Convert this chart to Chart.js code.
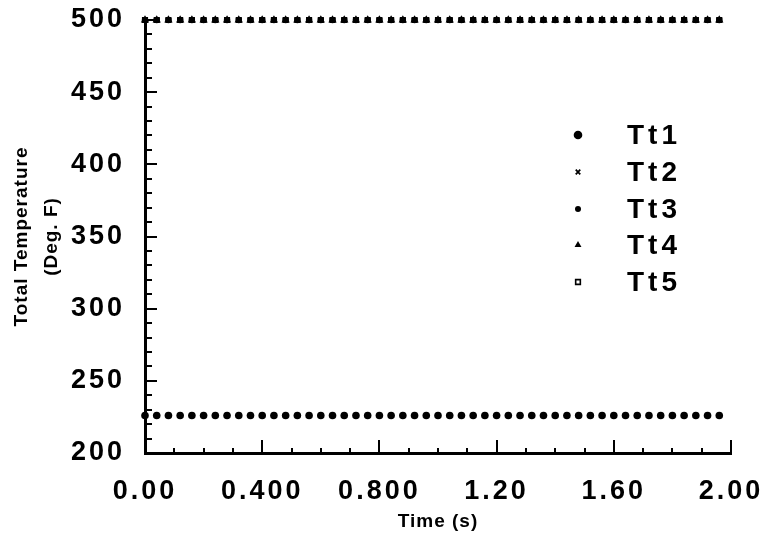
<!DOCTYPE html>
<html>
<head>
<meta charset="utf-8">
<title>Total Temperature</title>
<script src="https://cdn.jsdelivr.net/npm/chart.js@4/dist/chart.umd.min.js"></script>
<style>
  body { margin: 0; background: #fff; }
  #wrap { width: 771px; height: 541px; }
</style>
</head>
<body>
<div id="wrap"><canvas id="tempChart" width="771" height="541"></canvas></div>
<script>
// Sample times (s)
const times = [
    0.00, 0.04, 0.08, 0.12, 0.16, 0.20, 0.24, 0.28, 0.32, 0.36,
    0.40, 0.44, 0.48, 0.52, 0.56, 0.60, 0.64, 0.68, 0.72, 0.76,
    0.80, 0.84, 0.88, 0.92, 0.96, 1.00, 1.04, 1.08, 1.12, 1.16,
    1.20, 1.24, 1.28, 1.32, 1.36, 1.40, 1.44, 1.48, 1.52, 1.56,
    1.60, 1.64, 1.68, 1.72, 1.76, 1.80, 1.84, 1.88, 1.92, 1.96
];

// Total temperatures (Deg. F)
const tt1 = [
    226, 226, 226, 226, 226, 226, 226, 226, 226, 226,
    226, 226, 226, 226, 226, 226, 226, 226, 226, 226,
    226, 226, 226, 226, 226, 226, 226, 226, 226, 226,
    226, 226, 226, 226, 226, 226, 226, 226, 226, 226,
    226, 226, 226, 226, 226, 226, 226, 226, 226, 226
];
const tt2 = [
    500, 500, 500, 500, 500, 500, 500, 500, 500, 500,
    500, 500, 500, 500, 500, 500, 500, 500, 500, 500,
    500, 500, 500, 500, 500, 500, 500, 500, 500, 500,
    500, 500, 500, 500, 500, 500, 500, 500, 500, 500,
    500, 500, 500, 500, 500, 500, 500, 500, 500, 500
];
const tt3 = [
    500, 500, 500, 500, 500, 500, 500, 500, 500, 500,
    500, 500, 500, 500, 500, 500, 500, 500, 500, 500,
    500, 500, 500, 500, 500, 500, 500, 500, 500, 500,
    500, 500, 500, 500, 500, 500, 500, 500, 500, 500,
    500, 500, 500, 500, 500, 500, 500, 500, 500, 500
];
const tt4 = [
    500, 500, 500, 500, 500, 500, 500, 500, 500, 500,
    500, 500, 500, 500, 500, 500, 500, 500, 500, 500,
    500, 500, 500, 500, 500, 500, 500, 500, 500, 500,
    500, 500, 500, 500, 500, 500, 500, 500, 500, 500,
    500, 500, 500, 500, 500, 500, 500, 500, 500, 500
];
const tt5 = [
    500, 500, 500, 500, 500, 500, 500, 500, 500, 500,
    500, 500, 500, 500, 500, 500, 500, 500, 500, 500,
    500, 500, 500, 500, 500, 500, 500, 500, 500, 500,
    500, 500, 500, 500, 500, 500, 500, 500, 500, 500,
    500, 500, 500, 500, 500, 500, 500, 500, 500, 500
];

const seriesNames = ['Tt1', 'Tt2', 'Tt3', 'Tt4', 'Tt5'];
const xTickLabels = ['0.00', '0.400', '0.800', '1.20', '1.60', '2.00'];
const yTickLabels = ['200', '250', '300', '350', '400', '450', '500'];

const FONT = '"Liberation Sans", Arial, Helvetica, sans-serif';

// Marker look for each series (also used by the legend)
const markers = [
    { pointStyle: 'circle', radius: 3.8, fill: '#000', borderWidth: 0, legendRadius: 4.3 },
    { pointStyle: 'crossRot', radius: 3.5, fill: '#000', borderWidth: 1.8, legendRadius: 3.2 },
    { pointStyle: 'circle', radius: 3.2, fill: '#000', borderWidth: 0, legendRadius: 3 },
    { pointStyle: 'triangle', radius: 4.8, fill: '#000', borderWidth: 0, legendRadius: 4 },
    { pointStyle: 'rect', radius: 3.2, fill: '#fff', borderWidth: 1.6, legendRadius: 3.3 }
];

const allValues = [tt1, tt2, tt3, tt4, tt5];

const datasets = allValues.map((vals, i) => ({
    label: seriesNames[i],
    data: times.map((t, j) => ({ x: t, y: vals[j] })),
    showLine: false,
    pointStyle: markers[i].pointStyle,
    pointRadius: markers[i].radius,
    pointBackgroundColor: markers[i].fill,
    pointBorderColor: '#000',
    pointBorderWidth: markers[i].borderWidth,
    clip: false
}));

// Wider letter spacing for tick labels, tighter for axis titles
const letterSpacing = {
    id: 'letterSpacing',
    beforeDraw(chart) {
        Object.values(chart.scales).forEach(scale => {
            if (scale._spaced) return;
            const drawLabels = scale.drawLabels;
            scale.drawLabels = function (area) {
                this.ctx.letterSpacing = '3px';
                drawLabels.call(this, area);
                this.ctx.letterSpacing = '1px';
            };
            scale._spaced = true;
        });
        chart.ctx.letterSpacing = '1px';
    }
};

// Inward tick marks on both axes
const innerTicks = {
    id: 'innerTicks',
    afterDraw(chart) {
        const { ctx, chartArea } = chart;
        const x = chart.scales.x;
        const y = chart.scales.y;
        ctx.save();
        ctx.strokeStyle = '#000';
        ctx.lineWidth = 2;
        ctx.beginPath();
        for (let v = 200; v <= 500.001; v += 10) {
            const py = Math.round(y.getPixelForValue(v));
            const len = Math.round(v) % 50 === 0 ? 12 : 7;
            ctx.moveTo(chartArea.left, py);
            ctx.lineTo(chartArea.left + len, py);
        }
        for (let k = 1; k <= 20; k++) {
            const px = Math.round(x.getPixelForValue(k / 10));
            const len = k % 4 === 0 ? 13 : 5;
            ctx.moveTo(px, chartArea.bottom);
            ctx.lineTo(px, chartArea.bottom - len);
        }
        ctx.stroke();
        ctx.restore();
    }
};

// Legend drawn inside the plot area
const plotLegend = {
    id: 'plotLegend',
    afterDraw(chart) {
        const ctx = chart.ctx;
        const markX = 578;
        const textX = 627;
        const rowY = [135, 172, 209, 245, 282];
        ctx.save();
        seriesNames.forEach((name, i) => {
            const m = markers[i];
            ctx.fillStyle = m.fill;
            ctx.strokeStyle = '#000';
            ctx.lineWidth = m.borderWidth;
            Chart.helpers.drawPoint(ctx, {
                pointStyle: m.pointStyle,
                radius: m.legendRadius,
                borderWidth: m.borderWidth,
                rotation: 0
            }, markX, rowY[i]);
            ctx.fillStyle = '#000';
            ctx.font = 'bold 28px ' + FONT;
            ctx.textBaseline = 'middle';
            ctx.textAlign = 'left';
            ctx.letterSpacing = '4px';
            ctx.fillText(name, textX, rowY[i] + 1);
        });
        ctx.restore();
    }
};

new Chart(document.getElementById('tempChart'), {
    type: 'scatter',
    data: { datasets },
    options: {
        responsive: false,
        animation: false,
        layout: { padding: { left: 0, right: 40, top: 20, bottom: 0 } },
        plugins: {
            legend: { display: false },
            tooltip: { enabled: false }
        },
        scales: {
            x: {
                type: 'linear',
                min: 0,
                max: 2,
                grid: { display: false, drawTicks: false },
                border: { display: true, color: '#000', width: 3 },
                ticks: {
                    stepSize: 0.4,
                    padding: 22,
                    color: '#000',
                    maxRotation: 0,
                    font: { family: FONT, size: 27, weight: 'bold' },
                    callback: (value, index) => xTickLabels[index]
                },
                title: {
                    display: true,
                    text: 'Time (s)',
                    color: '#000',
                    font: { family: FONT, size: 19, weight: 'bold' },
                    padding: { top: 0, bottom: 8 }
                },
                afterFit(scale) {
                    scale.height = 88;
                    scale.paddingLeft = 0;
                    scale.paddingRight = 0;
                }
            },
            y: {
                type: 'linear',
                min: 200,
                max: 500,
                grid: { display: false, drawTicks: false },
                border: { display: true, color: '#000', width: 3 },
                ticks: {
                    stepSize: 50,
                    padding: 20,
                    color: '#000',
                    font: { family: FONT, size: 27, weight: 'bold' },
                    callback: (value, index) => yTickLabels[index]
                },
                title: {
                    display: true,
                    text: ['Total Temperature', '(Deg. F)'],
                    color: '#000',
                    font: { family: FONT, size: 19, weight: 'bold', lineHeight: 1.58 },
                    padding: { top: 7, bottom: 0 }
                },
                afterFit(scale) {
                    scale.width = 145;
                    scale.paddingTop = 0;
                    scale.paddingBottom = 0;
                }
            }
        }
    },
    plugins: [letterSpacing, innerTicks, plotLegend]
});
</script>
</body>
</html>
